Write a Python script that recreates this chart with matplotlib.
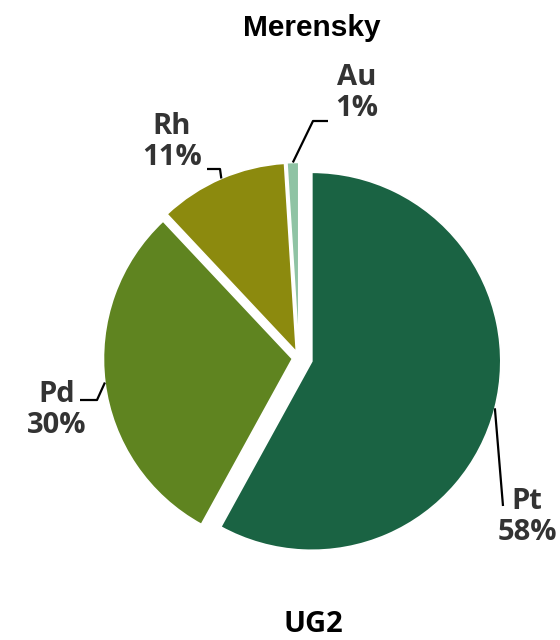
import numpy as np
import matplotlib
matplotlib.use("Agg")
import matplotlib.pyplot as plt

# ---- data ----
title = "Merensky"
next_title = "UG2"
metals = ["Pt", "Pd", "Rh", "Au"]
shares = [58, 30, 11, 1]
colors = ["#1a6343", "#5f8420", "#8c8a0e", "#8fc3a4"]
explode_frac = [0.07, 0.035, 0.035, 0.035]

# ---- layout (pixel coordinates, image y measured from top) ----
W, H = 560, 640
center_px = (299, 358)
radius_px = 189
# elbow and end points of leader lines, and label centres
leader_elbow = {"Pt": None, "Pd": (97, 400), "Rh": (220, 169), "Au": (313, 121)}
leader_end = {"Pt": (503, 506), "Pd": (80, 400), "Rh": (207, 169), "Au": (328, 121)}
label_pos = {"Pt": (527, 517), "Pd": (57, 410), "Rh": (172, 142), "Au": (357, 93)}


def Y(y):
    return H - y


fig = plt.figure(figsize=(W / 100, H / 100), dpi=100)
ax = fig.add_axes([0, 0, 1, 1])

wedges, _ = ax.pie(
    shares,
    colors=colors,
    explode=[e * radius_px for e in explode_frac],
    startangle=90,
    counterclock=False,
    center=(center_px[0], Y(center_px[1])),
    radius=radius_px,
    wedgeprops=dict(edgecolor="white", linewidth=1.2),
    frame=True,
)
ax.set_xlim(0, W)
ax.set_ylim(0, H)
ax.set_aspect("equal")
ax.axis("off")

label_font = dict(family=["Open Sans", "DejaVu Sans"], fontweight="bold",
                  fontsize=21, color="#333333", ha="center", va="center",
                  linespacing=1.1)

for w, name, val in zip(wedges, metals, shares):
    mid = np.deg2rad((w.theta1 + w.theta2) / 2)
    cx, cy = w.center
    sx = cx + w.r * np.cos(mid)
    sy = cy + w.r * np.sin(mid)
    xs = [sx]
    ys = [sy]
    if leader_elbow[name] is not None:
        ex, ey = leader_elbow[name]
        xs.append(ex)
        ys.append(Y(ey))
    tx, ty = leader_end[name]
    xs.append(tx)
    ys.append(Y(ty))
    ax.plot(xs, ys, color="black", linewidth=1.6, solid_capstyle="butt")
    lx, ly = label_pos[name]
    ax.text(lx, Y(ly), f"{name}\n{val}%", **label_font)

ax.text(312, Y(28), title, family=["Liberation Sans", "DejaVu Sans"],
        fontweight="bold", fontsize=21.5, color="black", ha="center", va="center")
ax.text(313, Y(624), next_title, family=["Open Sans", "DejaVu Sans"],
        fontweight="bold", fontsize=21, color="black", ha="center", va="center")

fig.savefig("out.png", dpi=100)
